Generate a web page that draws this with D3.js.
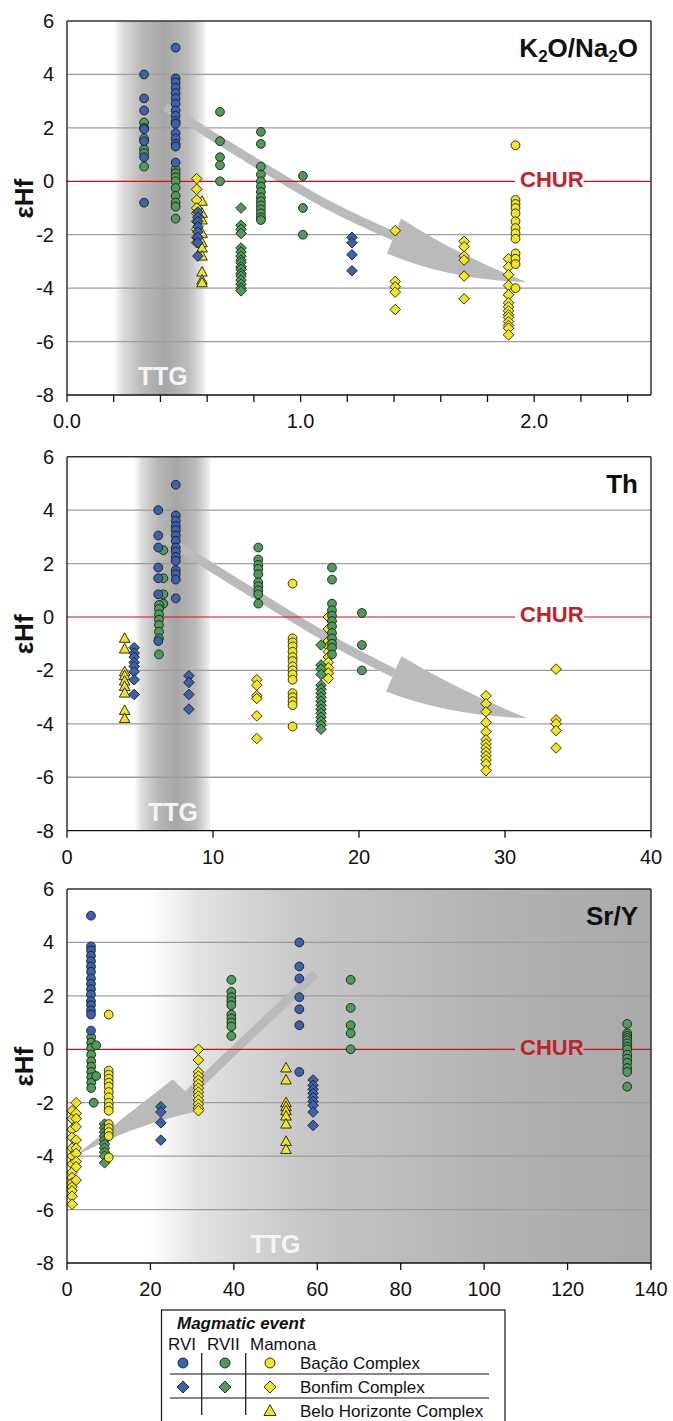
<!DOCTYPE html>
<html><head><meta charset="utf-8">
<script src="https://cdn.jsdelivr.net/npm/d3@7"></script>
<style>
body{margin:0;background:#fff}
svg{display:block}
text{font-family:"Liberation Sans",Arial,Helvetica,sans-serif}
</style>
</head><body>
<svg id="c" width="673" height="1421"></svg>
<script>
// ---------------- DATA ----------------
const yTicks = [6,4,2,0,-2,-4,-6,-8];
const gridValues = [4,2,-2,-4,-6];

// Panel 1 : K2O/Na2O   (columns: [x, [eHf values]])
const k2o_RVI_Bacao = [[0.33,[4.0,3.1,2.65,1.95,1.5,0.9,-0.8]],
  [0.465,[5.0,3.85,3.7,3.5,3.3,3.1,2.9,2.65,2.45,2.25,2.15,1.8,1.6,1.4,1.3,0.7]]];
const k2o_RVII_Bacao = [[0.33,[2.2,2.0,1.6,1.2,1.05,0.55]],
  [0.465,[0.45,0.3,0.15,0.0,-0.25,-0.55,-0.8,-0.95,-1.4]],
  [0.655,[2.6,1.5,0.9,0.6,0.0]],
  [0.83,[1.85,1.4,0.55,0.25,0.0,-0.2,-0.4,-0.6,-0.75,-0.9,-1.05,-1.2,-1.35,-1.45]],
  [1.01,[0.2,-1.0,-2.0]]];
const k2o_Mam_Bacao = [[1.92,[1.35,-0.7,-0.85,-1.0,-1.2,-1.5,-1.75,-1.95,-2.15,-2.7,-2.9,-3.1,-4.0]]];
const k2o_RVI_Bonfim = [[0.56,[-1.15,-1.35,-1.5,-1.7,-1.9,-2.1,-2.3,-2.8]],
  [1.22,[-2.1,-2.3,-2.75,-3.35]]];
const k2o_RVII_Bonfim = [[0.745,[-1.0,-1.65,-1.8,-1.95,-2.5,-2.65,-2.8,-2.95,-3.05,-3.2,-3.3,-3.45,-3.55,-3.7,-3.85,-4.0,-4.1]]];
const k2o_Mam_Bonfim = [[0.555,[0.1,-0.3,-0.7,-1.0,-1.2,-1.5,-1.8,-2.1,-2.3]],
  [1.405,[-1.85,-3.75,-3.95,-4.15,-4.8]],
  [1.70,[-2.25,-2.45,-2.8,-2.95,-3.55,-4.4]],
  [1.89,[-2.9,-3.2,-3.5,-3.9,-4.25,-4.55,-4.7,-4.85,-5.0,-5.1,-5.25,-5.4,-5.5,-5.75]]];
const k2o_Mam_BH = [[0.578,[-0.75,-1.2,-1.45,-1.95,-2.3,-2.5,-2.8,-3.4,-3.7,-3.8]]];

// Panel 2 : Th
const th_RVI_Bacao = [[6.25,[4.0,3.05,2.6,1.85,1.45,0.85,-0.9]],
  [7.45,[4.95,3.8,3.6,3.4,3.25,3.05,2.85,2.6,2.45,2.25,2.1,1.75,1.6,1.4,0.7]]];
const th_RVII_Bacao = [[6.6,[2.5,1.45,0.85,0.5]],
  [6.3,[0.45,0.3,0.1,-0.1,-0.3,-0.55,-0.8,-1.4]],
  [13.1,[2.6,2.15,1.95,1.8,1.6,1.3,1.15,1.0,0.85,0.5]],
  [18.15,[1.85,1.4,0.5,0.25,0.05,-0.15,-0.35,-0.6,-0.8,-1.0,-1.15,-1.4]],
  [20.2,[0.15,-1.05,-2.0]]];
const th_Mam_Bacao = [[15.45,[1.25,-0.8,-0.95,-1.1,-1.3,-1.5,-1.65,-1.85,-2.0,-2.15,-2.35,-2.85,-3.0,-3.15,-3.3,-4.1]]];
const th_RVI_Bonfim = [[4.6,[-1.15,-1.35,-1.5,-1.7,-1.85,-2.05,-2.35,-2.9]],
  [8.35,[-2.2,-2.45,-2.9,-3.45]]];
const th_RVII_Bonfim = [[17.4,[-1.05,-1.8,-1.95,-2.15,-2.55,-2.7,-2.85,-3.0,-3.15,-3.3,-3.45,-3.6,-3.75,-3.9,-4.05,-4.2]]];
const th_Mam_Bonfim = [[13.0,[-2.35,-2.55,-2.95,-3.05,-3.7,-4.55]],
  [17.9,[0.0,-0.45,-0.9,-1.1,-1.3,-1.5,-1.7,-1.9,-2.1,-2.3]],
  [28.7,[-2.95,-3.25,-3.55,-3.95,-4.3,-4.6,-4.75,-4.9,-5.05,-5.2,-5.35,-5.5,-5.75]],
  [33.5,[-1.95,-3.85,-4.0,-4.25,-4.9]]];
const th_Mam_BH = [[3.95,[-0.8,-1.2,-2.05,-2.2,-2.4,-2.6,-2.85,-3.5,-3.8]]];

// Panel 3 : Sr/Y
const sry_RVI_Bacao = [[5.75,[5.0,3.85,3.7,3.5,3.3,3.1,2.9,2.65,2.45,2.25,2.05,1.8,1.65,1.45,1.3,0.7]],
  [55.7,[4.0,3.1,2.65,1.95,1.5,0.9,-0.85]]];
const sry_RVII_Bacao = [[5.8,[0.45,0.25,0.05,-0.2,-0.45,-0.65,-0.85,-1.05,-1.25,-1.45]],
  [7.0,[0.15,-1.0]],[6.4,[-2.0]],
  [39.4,[2.6,2.15,1.95,1.8,1.65,1.3,1.15,1.0,0.85,0.5]],
  [68,[2.6,1.55,0.9,0.6,0.0]],
  [134.3,[0.95,0.6,0.5,0.42,0.33,0.22,0.1,0.0,-0.2,-0.35,-0.5,-0.7,-0.85,-1.4]]];
const sry_Mam_Bacao = [[10.0,[1.3,-0.8,-0.95,-1.1,-1.25,-1.4,-1.6,-1.8,-2.0,-2.15,-2.3,-2.8,-2.95,-3.1,-3.25,-4.05]]];
const sry_RVI_Bonfim = [[22.5,[-2.15,-2.35,-2.75,-3.4]],
  [59.0,[-1.15,-1.35,-1.5,-1.65,-1.8,-1.95,-2.1,-2.35,-2.85]]];
const sry_RVII_Bonfim = [[9.0,[-2.8,-2.95,-3.1,-3.25,-3.4,-3.55,-3.7,-3.85,-4.0,-4.25]]];
const sry_Mam_Bonfim = [[1.2,[-2.3,-2.6,-3.0,-3.3,-3.7,-4.0,-4.3,-4.6,-4.8,-5.0,-5.15,-5.3,-5.5,-5.8]],
  [2.2,[-2.0,-2.4,-2.6,-2.9,-3.4,-3.7,-3.9,-4.2,-4.4,-4.9]],
  [31.5,[0.0,-0.4,-0.85,-1.0,-1.15,-1.3,-1.45,-1.6,-1.75,-1.9,-2.05,-2.2,-2.3]]];
const sry_Mam_BH = [[52.5,[-0.7,-1.15,-2.0,-2.15,-2.3,-2.5,-2.8,-3.45,-3.75]]];

// trend arrows (data coordinates)
const k2oArrow = {shaft:[[0.42,2.8],[1.12,-0.9],[1.40,-2.05]], barbA:[1.43,-1.39], barbB:[1.37,-2.7], tip:[1.97,-3.78], ctrlA:[1.68,-2.8], ctrlB:[1.64,-3.7]};
const thArrow  = {shaft:[[6.7,2.95],[18.2,-0.9],[22.4,-2.1]], barbA:[22.9,-1.47], barbB:[21.85,-2.79], tip:[31.5,-3.78], ctrlA:[27.0,-2.8], ctrlB:[26.2,-3.71]};
const sryArrow = {shaft:[[59.6,2.83],[44.4,0.6],[29.1,-1.68]], barbA:[25.3,-1.13], barbB:[33.2,-2.25], tip:[1.0,-4.1], ctrlA:[13.2,-2.6], ctrlB:[14.7,-2.84]};

const legendEvents = ["RVI","RVII","Mamona"];
const legendComplexes = ["Bação Complex","Bonfim Complex","Belo Horizonte Complex"];

// ---------------- STYLE ----------------
const COL = {RVI:"#3a62ae", RVII:"#4e9c57", Mamona:"#f4e61c"};
const STROKE = "#1c1c1c";

const svg = d3.select("#c");
const defs = svg.append("defs");
const X0 = 67, X1 = 651, PH = 374;

function bandGrad(id){
  const g = defs.append("linearGradient").attr("id",id).attr("x1","0").attr("x2","1").attr("y1","0").attr("y2","0");
  [[0,"#ffffff"],[0.1,"#dcdcdc"],[0.3,"#b9b9b9"],[0.55,"#a6a6a6"],[0.8,"#bcbcbc"],[0.94,"#e4e4e4"],[1,"#ffffff"]]
    .forEach(s=>g.append("stop").attr("offset",s[0]).attr("stop-color",s[1]));
}

function symbolPath(shape, s){
  if(shape==="circle") return null;
  if(shape==="diamond") return `M0,${-s}L${s},0L0,${s}L${-s},0Z`;
  if(shape==="triangle") return `M0,${-s*1.05}L${s},${s*0.75}L${-s},${s*0.75}Z`;
}

function drawSym(g, shape, color, cx, cy, s){
  if(shape==="circle"){
    g.append("circle").attr("cx",cx).attr("cy",cy).attr("r",s)
      .attr("fill",color).attr("stroke",STROKE).attr("stroke-width",0.9);
  } else {
    g.append("path").attr("d",symbolPath(shape,s)).attr("transform",`translate(${cx},${cy})`)
      .attr("fill",color).attr("stroke",STROKE).attr("stroke-width",0.9);
  }
}

function drawPanel(cfg, idx){
  const top = cfg.top, bottom = top+PH;
  const x = d3.scaleLinear().domain(cfg.xDomain).range([X0,X1]);
  const y = d3.scaleLinear().domain([-8,6]).range([bottom, top]);
  const g = svg.append("g");

  // background
  if(cfg.band){
    const id="band"+idx; bandGrad(id);
    g.append("rect").attr("x",x(cfg.band[0])).attr("y",top)
      .attr("width",x(cfg.band[1])-x(cfg.band[0])).attr("height",PH).attr("fill",`url(#${id})`);
  }
  if(cfg.bgGrad){
    const id="bg"+idx;
    const gr = defs.append("linearGradient").attr("id",id).attr("gradientUnits","userSpaceOnUse")
      .attr("x1",X0).attr("x2",X1).attr("y1",0).attr("y2",0);
    cfg.bgGrad.forEach(s=>gr.append("stop").attr("offset",(x(s[0])-X0)/(X1-X0)).attr("stop-color",s[1]));
    g.append("rect").attr("x",X0).attr("y",top).attr("width",X1-X0).attr("height",PH).attr("fill",`url(#${id})`);
  }

  // grid
  g.selectAll(".grid").data(gridValues).enter().append("line")
    .attr("x1",X0).attr("x2",X1).attr("y1",d=>y(d)).attr("y2",d=>y(d))
    .attr("stroke","#9d9d9d").attr("stroke-width",1.3);

  // arrow
  const a = cfg.arrow;
  const P = p=>[x(p[0]),y(p[1])];
  g.append("path").attr("d",d3.line().curve(d3.curveCatmullRom)(a.shaft.map(P)))
    .attr("fill","none").attr("stroke","#b9bbba").attr("stroke-width",9);
  const bA=P(a.barbA), bB=P(a.barbB), t=P(a.tip), cA=P(a.ctrlA), cB=P(a.ctrlB);
  g.append("path").attr("d",`M${bA}Q${cA} ${t}Q${cB} ${bB}Z`).attr("fill","#b9bbba");

  // CHUR line + label
  const lab = g.append("text").attr("x",X0+453).attr("y",y(0)+5.5)
    .attr("font-size",22).attr("font-weight","bold").attr("fill","#c0232c").text("CHUR");
  const len = lab.node().getComputedTextLength();
  g.insert("line",()=>lab.node()).attr("x1",X0).attr("x2",X0+448).attr("y1",y(0)).attr("y2",y(0))
    .attr("stroke","#d01010").attr("stroke-width",1.2);
  g.insert("line",()=>lab.node()).attr("x1",X0+453+len).attr("x2",X1).attr("y1",y(0)).attr("y2",y(0))
    .attr("stroke","#d01010").attr("stroke-width",1.2);

  // TTG label
  g.append("text").attr("x",x(cfg.ttgX)).attr("y",bottom-10).attr("text-anchor","middle")
    .attr("font-size",25).attr("font-weight","bold").attr("fill","#f4f4f4").text("TTG");

  // points
  const series = cfg.series;
  series.forEach(s=>{
    s.data.forEach(col=>{
      col[1].forEach(v=>drawSym(g, s.shape, COL[s.event], x(col[0]), y(v), s.shape==="circle"?4.4:5.3));
    });
  });

  // frame
  g.append("line").attr("x1",X0).attr("x2",X1).attr("y1",top).attr("y2",top).attr("stroke","#333").attr("stroke-width",1.5);
  g.append("line").attr("x1",X1).attr("x2",X1).attr("y1",top).attr("y2",bottom).attr("stroke","#333").attr("stroke-width",1.5);
  g.append("line").attr("x1",X0).attr("x2",X0).attr("y1",top).attr("y2",bottom).attr("stroke","#111").attr("stroke-width",1.3);
  g.append("line").attr("x1",X0).attr("x2",X1).attr("y1",bottom).attr("y2",bottom).attr("stroke","#111").attr("stroke-width",1.3);

  // y tick labels
  g.selectAll(".yl").data(yTicks).enter().append("text")
    .attr("x",X0-13).attr("y",d=>y(d)+7).attr("text-anchor","end")
    .attr("font-size",20).attr("fill","#111").text(d=>d);

  // x ticks
  g.selectAll(".xt").data(cfg.xTicks).enter().append("line")
    .attr("x1",d=>x(d)).attr("x2",d=>x(d)).attr("y1",bottom).attr("y2",bottom+7)
    .attr("stroke","#111").attr("stroke-width",1.3);
  g.selectAll(".xl").data(cfg.xLabels).enter().append("text")
    .attr("x",d=>x(d)).attr("y",bottom+33).attr("text-anchor","middle")
    .attr("font-size",20).attr("fill","#111").text(cfg.fmt);

  // y axis title
  const yc = y(-0.65);
  g.append("text").attr("transform",`translate(33,${yc}) rotate(-90)`).attr("text-anchor","middle")
    .attr("font-size",26).attr("font-weight","bold").attr("fill","#111").text("εHf");

  // panel title
  const tt = g.append("text").attr("x",X1-13).attr("y",top+36).attr("text-anchor","end")
    .attr("font-size",26).attr("font-weight","bold").attr("fill","#111");
  cfg.title.forEach(p=>{
    const ts = tt.append("tspan").text(p.t);
    if(p.sub) ts.attr("font-size",17).attr("dy",5); else if(p.after) ts.attr("dy",-5);
  });
}

function seriesOf(a){
  return [
    {shape:"triangle",event:"Mamona",data:a[6]},
    {shape:"diamond",event:"Mamona",data:a[5]},
    {shape:"diamond",event:"RVII",data:a[4]},
    {shape:"diamond",event:"RVI",data:a[3]},
    {shape:"circle",event:"Mamona",data:a[2]},
    {shape:"circle",event:"RVII",data:a[1]},
    {shape:"circle",event:"RVI",data:a[0]}
  ];
}

drawPanel({top:21, xDomain:[0,2.5], xTicks:d3.range(0,2.41,0.2), xLabels:[0,1,2], fmt:d3.format(".1f"),
  band:[0.2,0.6], ttgX:0.41, arrow:k2oArrow,
  title:[{t:"K"},{t:"2",sub:true},{t:"O/Na",after:true},{t:"2",sub:true},{t:"O",after:true}],
  series:seriesOf([k2o_RVI_Bacao,k2o_RVII_Bacao,k2o_Mam_Bacao,k2o_RVI_Bonfim,k2o_RVII_Bonfim,k2o_Mam_Bonfim,k2o_Mam_BH])},0);

drawPanel({top:456.7, xDomain:[0,40], xTicks:d3.range(0,41,10), xLabels:d3.range(0,41,10), fmt:d=>d,
  band:[4.6,9.9], ttgX:7.26, arrow:thArrow, title:[{t:"Th"}],
  series:seriesOf([th_RVI_Bacao,th_RVII_Bacao,th_Mam_Bacao,th_RVI_Bonfim,th_RVII_Bonfim,th_Mam_Bonfim,th_Mam_BH])},1);

drawPanel({top:889, xDomain:[0,140], xTicks:d3.range(0,141,20), xLabels:d3.range(0,141,20), fmt:d=>d,
  bgGrad:[[0,"#ffffff"],[20,"#ffffff"],[32,"#e2e2e2"],[50,"#cdcdcd"],[66,"#c2c2c2"],[100,"#b4b4b4"],[140,"#a9a9a9"]],
  ttgX:50, arrow:sryArrow, title:[{t:"Sr/Y"}],
  series:seriesOf([sry_RVI_Bacao,sry_RVII_Bacao,sry_Mam_Bacao,sry_RVI_Bonfim,sry_RVII_Bonfim,sry_Mam_Bonfim,sry_Mam_BH])},2);

// ---------------- LEGEND ----------------
const L = svg.append("g");
L.append("rect").attr("x",161.5).attr("y",1310).attr("width",343.5).attr("height",140)
  .attr("fill","#fff").attr("stroke","#111").attr("stroke-width",1.2);
L.append("text").attr("x",177).attr("y",1329).attr("font-size",17).attr("font-weight","bold")
  .attr("font-style","italic").attr("fill","#111").text("Magmatic event");
const evX = [168,207,250];
legendEvents.forEach((e,i)=>L.append("text").attr("x",evX[i]).attr("y",1350).attr("font-size",17).attr("fill","#111").text(e));
[201.7,245.7].forEach(vx=>L.append("line").attr("x1",vx).attr("x2",vx).attr("y1",1353).attr("y2",1415).attr("stroke","#111").attr("stroke-width",1.2));
[1374,1398].forEach(hy=>L.append("line").attr("x1",170).attr("x2",489).attr("y1",hy).attr("y2",hy).attr("stroke","#111").attr("stroke-width",1.2));
const rowY = [1363,1387,1411];
const symX = [183,225,270];
const rowShapes = ["circle","diamond","triangle"];
const rowEvents = [legendEvents, legendEvents, ["Mamona"]];
rowY.forEach((ry,i)=>{
  rowEvents[i].forEach(e=>{
    drawSym(L, rowShapes[i], COL[e], symX[legendEvents.indexOf(e)], ry, rowShapes[i]==="circle"?5:6);
  });
  L.append("text").attr("x",300).attr("y",ry+6).attr("font-size",17).attr("fill","#111").text(legendComplexes[i]);
});
</script>
</body></html>
